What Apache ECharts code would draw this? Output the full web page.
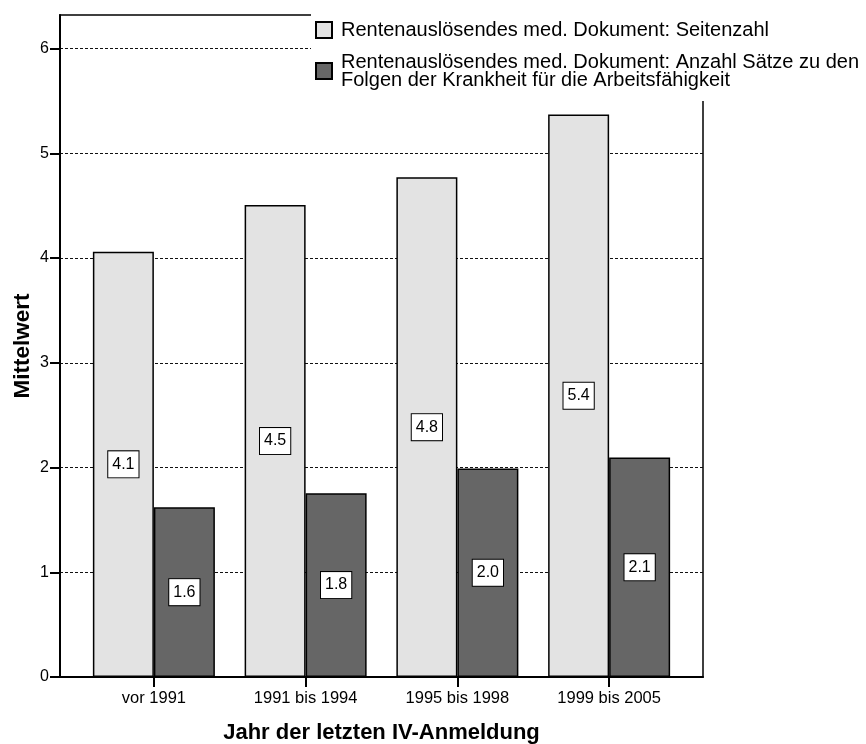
<!DOCTYPE html>
<html>
<head>
<meta charset="utf-8">
<script src="https://cdn.jsdelivr.net/npm/echarts@6/dist/echarts.min.js"></script>
<style>
html,body{margin:0;padding:0;background:#fff;}
#chart{width:866px;height:744px;}
</style>
</head>
<body>
<div id="chart"></div>
<script>
var categories = ['vor 1991', '1991 bis 1994', '1995 bis 1998', '1999 bis 2005'];
var seitenzahl = [4.06, 4.505, 4.77, 5.37];
var anzahlSaetze = [1.62, 1.755, 1.99, 2.095];
var yTicks = [0, 1, 2, 3, 4, 5, 6];
var seriesNames = [
  'Rentenauslösendes med. Dokument: Seitenzahl',
  'Rentenauslösendes med. Dokument: Anzahl Sätze zu den\nFolgen der Krankheit für die Arbeitsfähigkeit'
];
var xTitle = 'Jahr der letzten IV-Anmeldung';
var yTitle = 'Mittelwert';

var FONT = '"Liberation Sans", Arial, Helvetica, sans-serif';
var YMAX = 6.32;

var chart = echarts.init(document.getElementById('chart'), null, {renderer: 'canvas'});

var labelStyle = {
  show: true,
  position: 'inside',
  formatter: function (p) { return p.value.toFixed(1); },
  backgroundColor: '#fff',
  borderColor: '#000',
  borderWidth: 1,
  padding: [5, 4, 4, 4],
  fontSize: 16,
  lineHeight: 17,
  fontFamily: FONT,
  color: '#000'
};

var option = {
  backgroundColor: '#fff',
  animation: false,
  textStyle: {fontFamily: FONT},
  legend: {
    orient: 'vertical',
    left: 311,
    top: 12,
    padding: [8, 4, 11, 4],
    itemGap: 12,
    itemWidth: 16,
    itemHeight: 16,
    backgroundColor: '#fff',
    icon: 'rect',
    textStyle: {fontSize: 20, fontFamily: FONT, color: '#000', padding: [0, 0, 0, 4], lineHeight: 18},
    data: seriesNames
  },
  grid: [
    {left: 60, right: 163, top: 15, bottom: 67, outerBoundsMode: 'none', containLabel: false,
     show: true, borderColor: '#000', borderWidth: 1.5, backgroundColor: 'transparent'},
    {left: 78, right: 181, top: 15, bottom: 67, outerBoundsMode: 'none', containLabel: false}
  ],
  xAxis: [
    {
      gridIndex: 0, type: 'value', min: 0, max: 1,
      axisLine: {show: true, lineStyle: {color: '#000', width: 2}},
      axisTick: {show: false}, axisLabel: {show: false}, splitLine: {show: false},
      name: xTitle, nameLocation: 'middle', nameGap: 45, nameMoveOverlap: false,
      nameTextStyle: {fontSize: 22, fontWeight: 'bold', fontFamily: FONT, color: '#000'}
    },
    {
      gridIndex: 1, type: 'category', data: categories,
      axisLine: {show: false},
      axisTick: {show: true, alignWithLabel: true, length: 10, lineStyle: {color: '#000', width: 2}},
      axisLabel: {fontSize: 16.5, fontFamily: FONT, color: '#000', margin: 13},
      splitLine: {show: false}
    }
  ],
  yAxis: [
    {
      gridIndex: 0, type: 'value', min: 0, max: YMAX, interval: 1,
      axisLine: {show: true, lineStyle: {color: '#000', width: 2}},
      axisTick: {show: true, length: 10, lineStyle: {color: '#000', width: 2}, customValues: yTicks},
      axisLabel: {show: true, fontSize: 16, fontFamily: FONT, color: '#000', margin: 11, showMaxLabel: false,
        formatter: function (v) { return yTicks.indexOf(v) >= 0 ? String(v) : ''; }},
      splitLine: {show: true, lineStyle: {color: '#111', width: 1, type: [3, 2]}},
      name: yTitle, nameLocation: 'middle', nameGap: 26, nameRotate: 90, nameMoveOverlap: false,
      nameTextStyle: {fontSize: 22.5, fontWeight: 'bold', fontFamily: FONT, color: '#000'}
    },
    {
      gridIndex: 1, type: 'value', min: 0, max: YMAX, show: false
    }
  ],
  series: [
    {
      name: seriesNames[0], type: 'bar', xAxisIndex: 1, yAxisIndex: 1,
      data: seitenzahl, barWidth: 61, barGap: '0%',
      itemStyle: {color: '#e3e3e3', borderColor: '#000', borderWidth: 1.5},
      label: labelStyle
    },
    {
      name: seriesNames[1], type: 'bar', xAxisIndex: 1, yAxisIndex: 1,
      data: anzahlSaetze, barWidth: 61, barGap: '0%',
      itemStyle: {color: '#666666', borderColor: '#000', borderWidth: 1.5},
      label: labelStyle
    }
  ]
};
chart.setOption(option);
</script>
</body>
</html>
